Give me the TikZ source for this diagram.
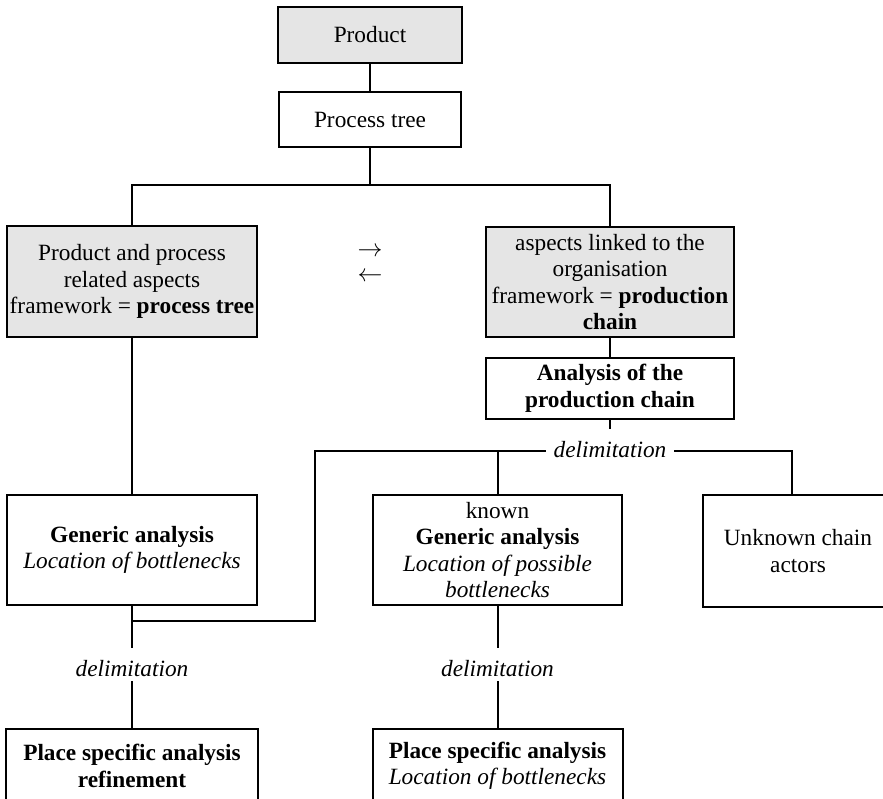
\documentclass[tikz,border=0pt]{standalone}
\usepackage{fontspec}
\setmainfont{Liberation Serif}
\usepackage{tikz}

\begin{document}
\begin{tikzpicture}[x=1pt,y=-1pt,line width=2pt,
    font=\fontsize{23.3}{26.5}\selectfont,
    box/.style={rectangle,draw,align=center,inner sep=0pt},
    grey box/.style={box,fill=black!10},
    delim/.style={font=\fontsize{23.3}{26.5}\selectfont\itshape,inner xsep=7pt,inner ysep=0pt,
      text height=27pt,text depth=4pt,anchor=base}]

  \useasboundingbox (0,0) rectangle (883,798);

  % top of the tree
  \node[grey box,minimum width=184pt,minimum height=56pt] (product) at (370,35) {Product};
  \node[box,minimum width=182pt,minimum height=55pt]      (tree) at (370,119.5) {Process tree};
  \coordinate (top) at (370,185);

  % the two kinds of aspects
  \node[grey box,minimum width=250pt,minimum height=111pt] (aspects) at (132,281.5)
    {Product and process\\ related aspects\\ framework = \textbf{process tree}};
  \node[grey box,minimum width=248pt,minimum height=110pt] (orga) at (610,282)
    {aspects linked to the\\ organisation\\ framework = \textbf{production}\\ \textbf{chain}};
  \node (fwd)  at (370,252) {$\rightarrow$};
  \node (back) at (370,277) {$\leftarrow$};

  \node[box,minimum width=248pt,minimum height=61pt] (chainana) at (610,388.5)
    {\textbf{Analysis of the}\\ \textbf{production chain}};
  \node[delim] (d1) at (610,457) {delimitation};
  \coordinate (jl) at (315,451);
  \coordinate (jr) at (792,451);
  \coordinate (jb) at (315,621);

  % generic analyses
  \node[box,minimum width=250pt,minimum height=110pt] (genleft) at (132,550)
    {\textbf{Generic analysis}\\ \textit{Location of bottlenecks}};
  \node[box,minimum width=249pt,minimum height=110pt] (genmid) at (497.5,550)
    {known\\ \textbf{Generic analysis}\\ \textit{Location of possible}\\ \textit{bottlenecks}};
  \node[box,anchor=west,minimum width=190pt,minimum height=112pt] (unknown) at (702,551)
    {Unknown chain\\ actors};

  \node[delim] (d2) at (132,676) {delimitation};
  \node[delim] (d3) at (497.5,676) {delimitation};

  % place specific analyses
  \node[box,anchor=north,minimum width=252pt,minimum height=74pt] (placeleft) at (132,728)
    {\textbf{Place specific analysis}\\ \textbf{refinement}};
  \node[box,anchor=north,minimum width=250pt,minimum height=74pt] (placemid) at (497.5,728)
    {\textbf{Place specific analysis}\\ \textit{Location of bottlenecks}};

  \path (product) edge (tree)
        (tree) edge (top)
        (aspects) edge (genleft)
        (orga) edge (chainana)
        (chainana) edge (d1)
        (genleft) edge (d2)
        (d2) edge (placeleft)
        (genmid) edge (d3)
        (d3) edge (placemid);

  \draw (aspects) |- (top) -| (orga);
  \draw (jb -| genleft.south) -- (jb) -- (jl) -- (jl -| d1.west);
  \draw (d1.east |- jr) -- (jr) -- (jr |- unknown.north);
  \draw (genmid) -- (genmid |- jl);

\end{tikzpicture}
\end{document}
